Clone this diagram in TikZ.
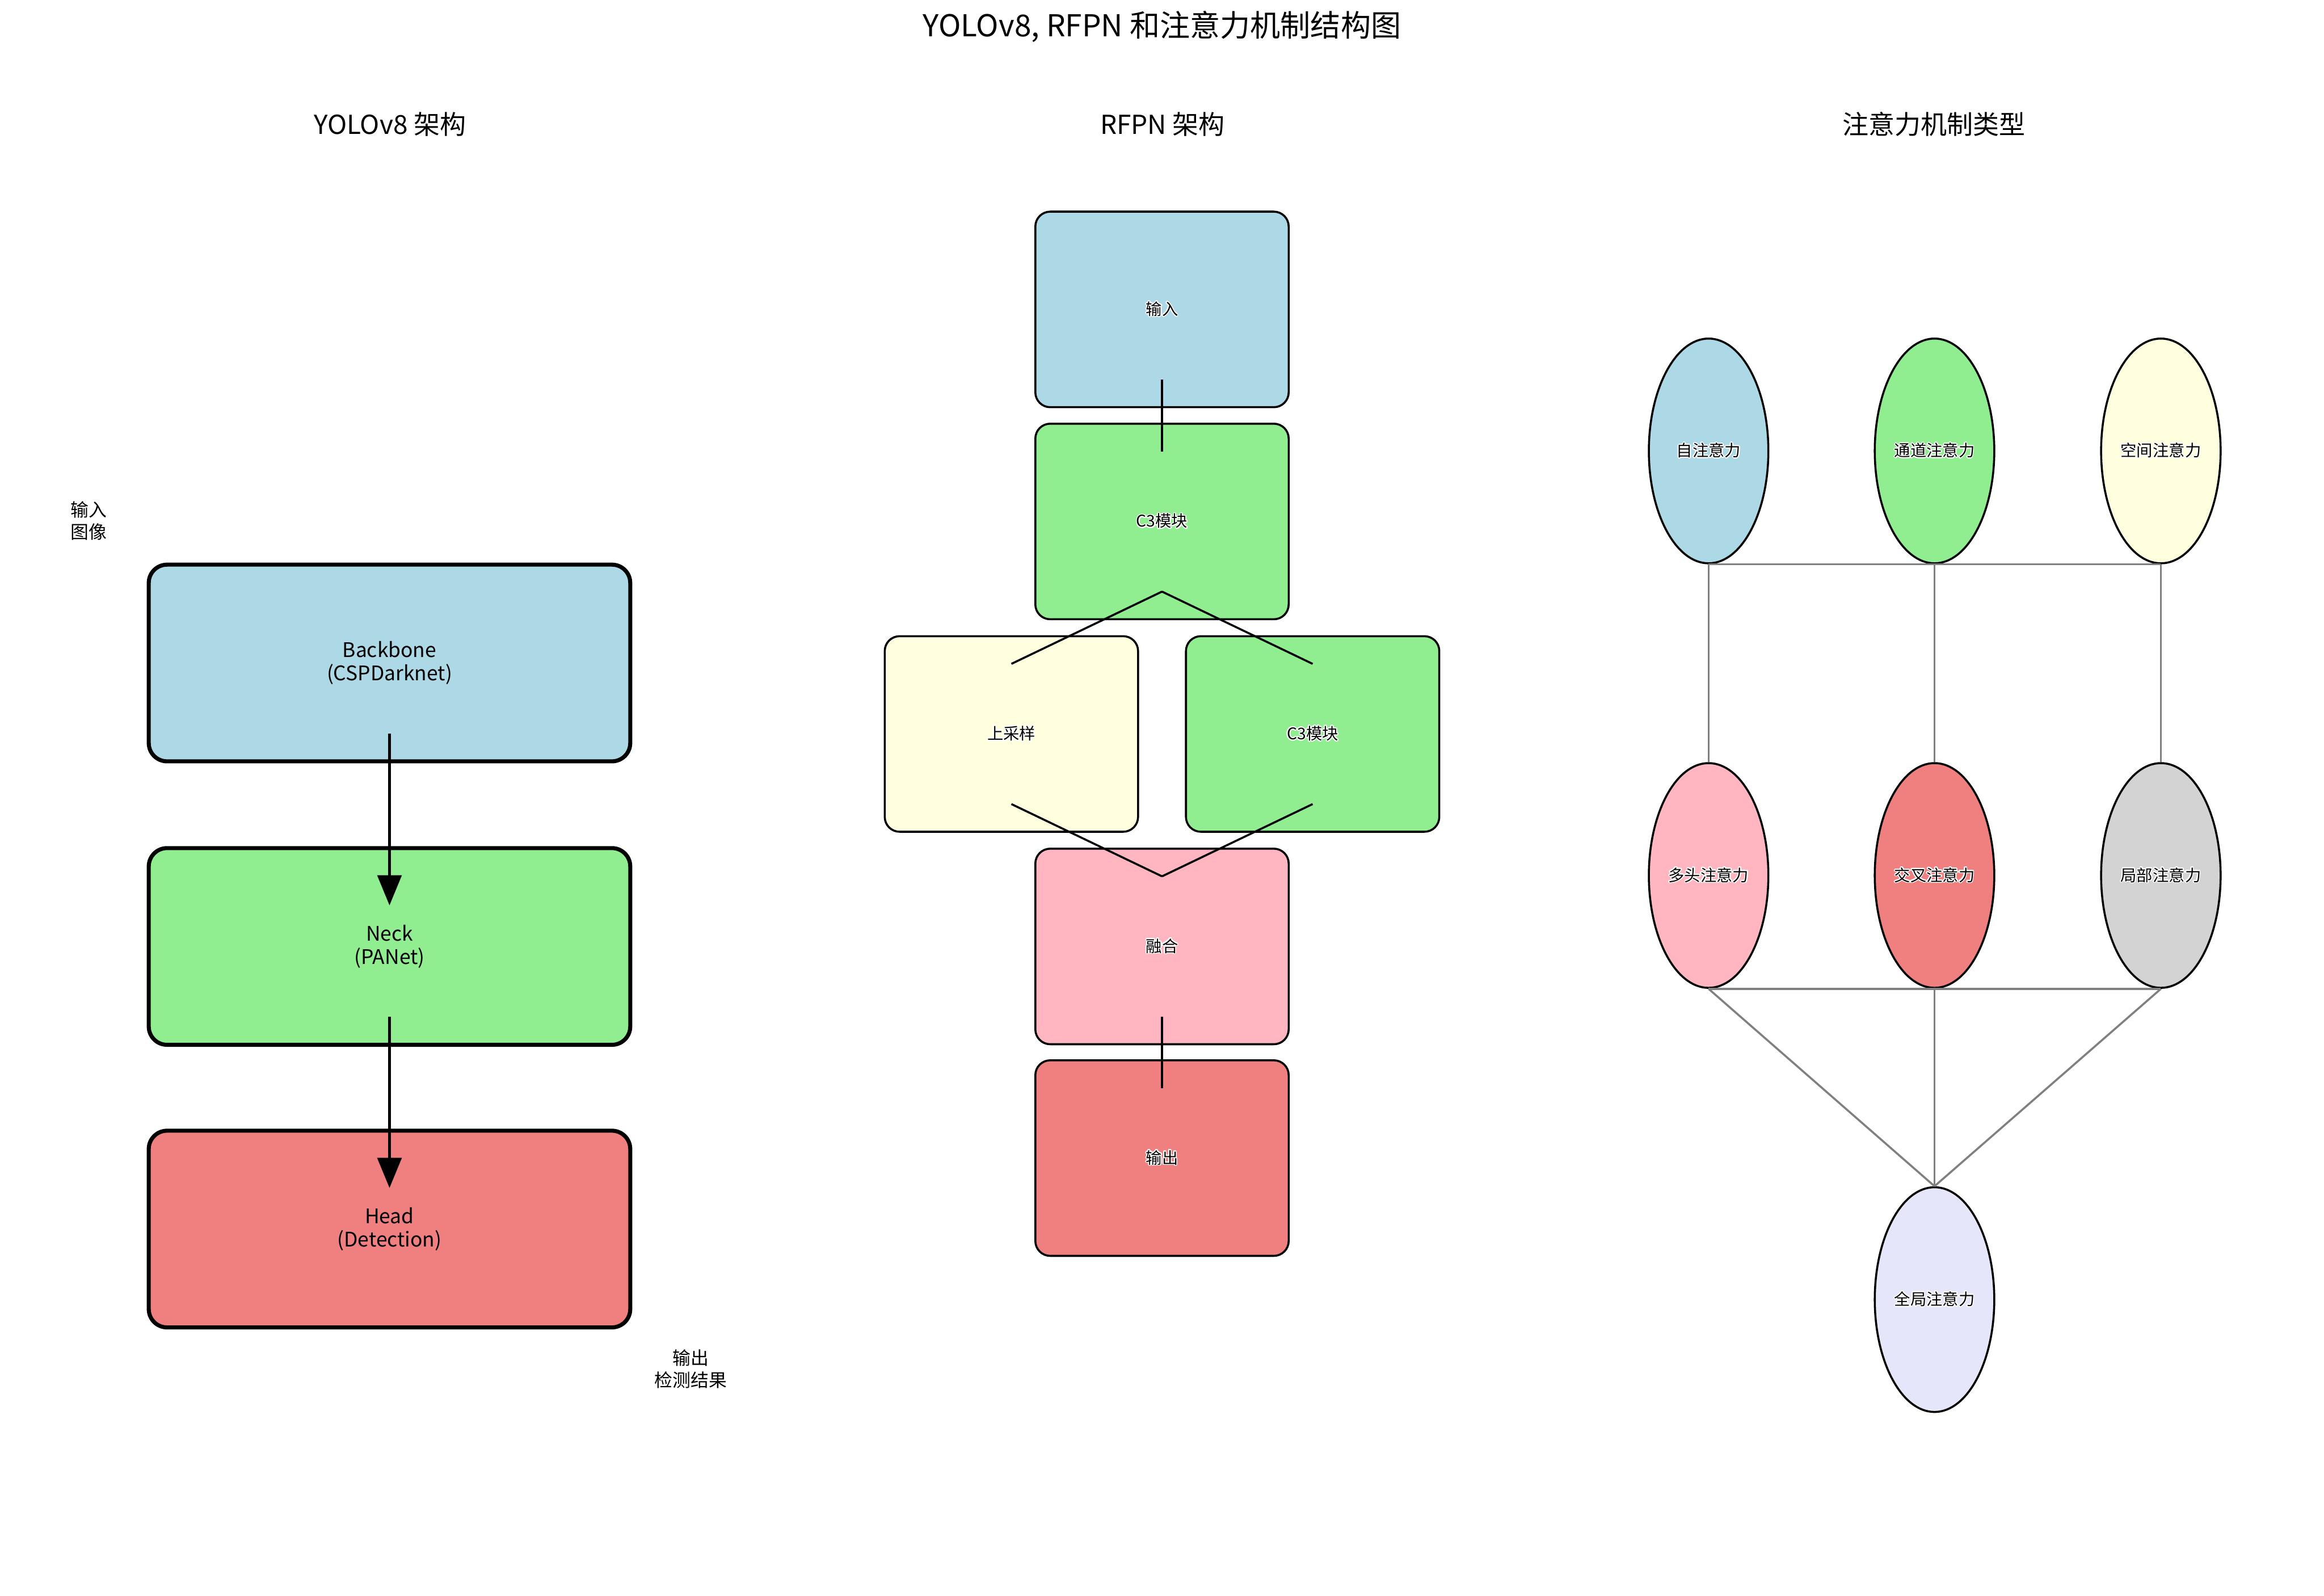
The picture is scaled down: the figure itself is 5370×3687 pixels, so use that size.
\documentclass[tikz,border=0pt]{standalone}
\usepackage{fontspec}
\setmainfont{Noto Sans CJK SC}
\usepackage[copies]{contour}
\contourlength{0.5pt}
\usetikzlibrary{arrows.meta,calc,shapes.geometric}
\definecolor{lblue}{HTML}{ADD8E6}
\definecolor{lgreen}{HTML}{90EE90}
\definecolor{lyellow}{HTML}{FFFFE0}
\definecolor{lpink}{HTML}{FFB6C1}
\definecolor{lcoral}{HTML}{F08080}
\definecolor{lgray}{HTML}{D3D3D3}
\definecolor{lavend}{HTML}{E6E6FA}
\begin{document}
\begin{tikzpicture}[x=0.075680mm,y=-0.075680mm,
  ybox/.style={draw=black,line width=2pt,rounded corners=3.2mm,minimum width=84.2mm,minimum height=34.4mm,align=center,inner sep=0pt,font=\fontsize{10}{11.5}\selectfont},
  rbox/.style={draw=black,line width=1pt,rounded corners=2.6mm,minimum width=44.3mm,minimum height=34.2mm,inner sep=0pt,font=\fontsize{8}{10}\selectfont},
  att/.style={ellipse,draw=black,line width=1pt,minimum width=20.9mm,minimum height=39.3mm,inner sep=0pt,font=\fontsize{8}{10}\selectfont},
  lbl/.style={align=center,inner sep=0pt,font=\fontsize{9}{11}\selectfont},
  sub/.style={inner sep=0pt,font=\fontsize{13}{15}\selectfont},
  yarrow/.style={line width=1.3pt,-{Triangle[width=12pt,length=15pt]}},
  rline/.style={line width=1pt},
  gline/.style={line width=1pt,draw=gray}]
\useasboundingbox (0,0) rectangle (5370,3687);
% titles
\node[inner sep=0pt,font=\fontsize{15}{18}\selectfont] (title) at (2685,62) {YOLOv8, RFPN 和注意力机制结构图};
\node[sub] (s1) at (901,287) {YOLOv8 架构};
\node[sub] (s2) at (2686,287) {RFPN 架构};
\node[sub] (s3) at (4469,287) {注意力机制类型};
% YOLOv8
\node[ybox,fill=lblue] (bb) at (900,1532) {Backbone\\(CSPDarknet)};
\node[ybox,fill=lgreen] (neck) at (900,2187) {Neck\\(PANet)};
\node[ybox,fill=lcoral] (head) at (900,2840) {Head\\(Detection)};
\node[lbl] (inimg) at (205,1203) {输入\\图像};
\node[lbl] (outres) at (1596,3163) {输出\\检测结果};
\draw[yarrow] ($(bb)+(0,163)$) -- ($(neck)+(0,-95)$);
\draw[yarrow] ($(neck)+(0,163)$) -- ($(head)+(0,-95)$);
% RFPN
\node[rbox,fill=lblue] (rin) at (2685,715) {\contour{white}{输入}};
\node[rbox,fill=lgreen] (c3a) at (2685,1205) {\contour{white}{C3模块}};
\node[rbox,fill=lyellow] (up) at (2337,1696) {\contour{white}{上采样}};
\node[rbox,fill=lgreen] (c3b) at (3033,1696) {\contour{white}{C3模块}};
\node[rbox,fill=lpink] (fuse) at (2685,2187) {\contour{white}{融合}};
\node[rbox,fill=lcoral] (rout) at (2685,2676) {\contour{white}{输出}};
\draw[rline] ($(rin)+(0,162)$) -- ($(c3a)+(0,-162)$);
\draw[rline] ($(c3a)+(0,162)$) -- ($(up)+(0,-162)$);
\draw[rline] ($(c3a)+(0,162)$) -- ($(c3b)+(0,-162)$);
\draw[rline] ($(up)+(0,162)$) -- ($(fuse)+(0,-162)$);
\draw[rline] ($(c3b)+(0,162)$) -- ($(fuse)+(0,-162)$);
\draw[rline] ($(fuse)+(0,162)$) -- ($(rout)+(0,-162)$);
% Attention
\node[att,fill=lblue] (a1) at (3948,1042) {\contour{white}{自注意力}};
\node[att,fill=lgreen] (a2) at (4470,1042) {\contour{white}{通道注意力}};
\node[att,fill=lyellow] (a3) at (4993,1042) {\contour{white}{空间注意力}};
\node[att,fill=lpink] (b1) at (3948,2023) {\contour{white}{多头注意力}};
\node[att,fill=lcoral] (b2) at (4470,2023) {\contour{white}{交叉注意力}};
\node[att,fill=lgray] (b3) at (4993,2023) {\contour{white}{局部注意力}};
\node[att,fill=lavend] (g) at (4470,3003) {\contour{white}{全局注意力}};
\draw[gline] (a1.south) -- (a2.south) -- (a3.south);
\draw[gline] (a1.south) -- (b1.north);
\draw[gline] (a2.south) -- (b2.north);
\draw[gline] (a3.south) -- (b3.north);
\draw[gline] (b1.south) -- (b2.south) -- (b3.south);
\draw[gline] (b1.south) -- (g.north);
\draw[gline] (b2.south) -- (g.north);
\draw[gline] (b3.south) -- (g.north);
\end{tikzpicture}
\end{document}
